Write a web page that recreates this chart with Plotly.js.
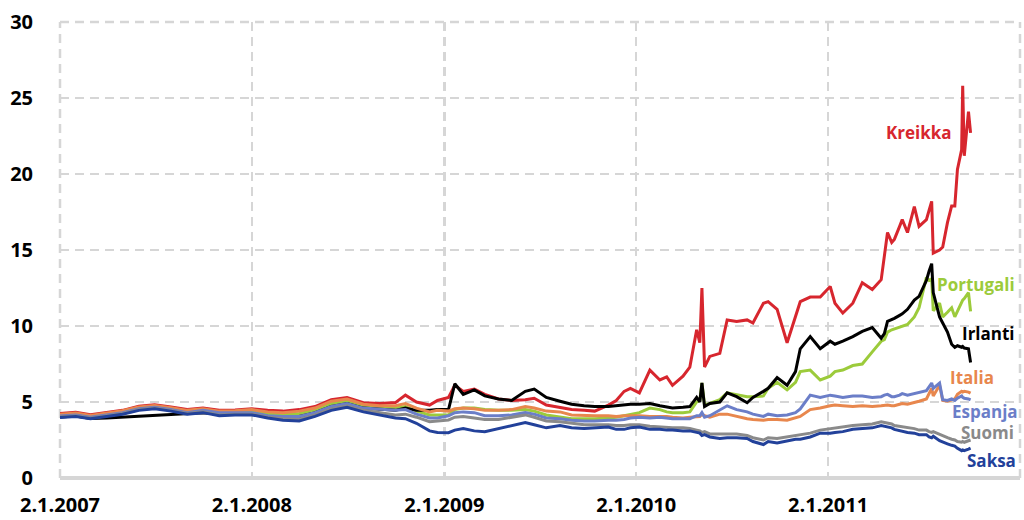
<!DOCTYPE html>
<html>
<head>
<meta charset="utf-8">
<script src="https://cdn.plot.ly/plotly-3.0.1.min.js"></script>
<style>html,body{margin:0;padding:0;background:#fff;}#chart{width:1024px;height:520px;}</style>
</head>
<body>
<div id="chart"></div>
<script>
const dates = [
'2007-01-02','2007-02-01','2007-03-01','2007-04-01','2007-05-01','2007-06-01','2007-07-01','2007-08-01','2007-09-01','2007-10-01','2007-11-01','2007-12-01',
'2008-01-02','2008-02-01','2008-03-01','2008-04-01','2008-05-01','2008-06-01','2008-07-01','2008-08-01','2008-09-01','2008-10-01','2008-10-20','2008-11-10','2008-12-05','2008-12-20',
'2009-01-10','2009-01-22','2009-02-07','2009-02-28','2009-03-20','2009-04-15','2009-05-10','2009-06-05','2009-06-22','2009-07-15','2009-08-10','2009-09-01','2009-09-25','2009-10-15','2009-11-10','2009-11-25','2009-12-10','2009-12-22',
'2010-01-08','2010-01-28','2010-02-16','2010-03-01','2010-03-12','2010-04-01','2010-04-14','2010-04-27','2010-05-03','2010-05-07','2010-05-12','2010-05-22','2010-06-10','2010-06-24','2010-07-12','2010-08-01','2010-08-12','2010-09-01','2010-09-10','2010-09-27','2010-10-16','2010-11-01','2010-11-10','2010-11-29','2010-12-18',
'2011-01-06','2011-01-15','2011-01-30','2011-02-18','2011-03-08','2011-03-27','2011-04-13','2011-04-19','2011-04-25','2011-05-03','2011-05-08','2011-05-18','2011-05-23','2011-06-02','2011-06-15','2011-06-24','2011-07-08','2011-07-13','2011-07-18','2011-07-21','2011-08-02','2011-08-08','2011-08-17','2011-08-25','2011-08-31','2011-09-05','2011-09-13','2011-09-15','2011-09-18','2011-09-26','2011-09-30'
];

const kreikka = [
4.25,4.32,4.17,4.3,4.45,4.72,4.82,4.67,4.5,4.6,4.45,4.48,
4.55,4.45,4.4,4.5,4.7,5.15,5.3,4.95,4.9,4.96,5.45,5.0,4.8,5.1,
5.3,6.1,5.7,5.85,5.5,5.2,5.1,5.15,5.25,4.8,4.65,4.5,4.45,4.4,4.8,5.1,5.7,5.9,
5.6,7.1,6.45,6.65,6.1,6.7,7.3,9.75,8.9,12.5,7.3,8.0,8.2,10.4,10.3,10.4,10.2,11.5,11.6,11.1,8.9,10.6,11.6,11.9,11.9,
12.6,11.5,10.85,11.5,12.85,12.4,13.05,14.8,16.15,15.5,15.7,16.55,17.0,16.15,17.85,16.55,17.0,17.6,18.2,14.8,15.0,15.2,16.8,17.9,17.9,20.3,21.6,25.8,21.2,24.1,22.7
];

const portugali = [
4.15,4.22,4.07,4.22,4.37,4.62,4.72,4.57,4.4,4.5,4.35,4.37,
4.4,4.25,4.2,4.25,4.5,4.9,5.1,4.75,4.6,4.6,4.7,4.4,4.15,4.15,
4.15,4.5,4.6,4.6,4.5,4.45,4.45,4.5,4.4,4.15,4.0,3.9,3.9,3.9,3.95,4.0,4.1,4.2,
4.3,4.6,4.5,4.35,4.3,4.3,4.35,5.0,5.1,6.25,4.8,4.9,5.15,5.6,5.5,5.35,5.35,5.4,5.9,6.3,5.8,6.3,7.0,7.1,6.45,
6.7,7.0,7.1,7.4,7.5,8.3,9.0,9.1,9.6,9.75,9.8,9.95,10.0,10.1,10.6,11.2,13.2,13.0,13.1,11.0,11.5,10.6,10.9,11.2,10.6,11.0,11.6,11.7,11.8,12.2,10.96
];

const irlanti = [
4.02,4.08,3.92,3.95,null,null,null,null,null,4.3,4.2,4.2,
4.25,4.05,4.0,4.05,4.3,4.7,4.9,4.6,4.5,4.45,4.6,4.45,4.45,4.5,
4.5,6.2,5.5,5.8,5.4,5.2,5.1,5.7,5.85,5.3,5.05,4.85,4.75,4.7,4.7,4.75,4.8,4.85,
4.85,4.9,4.75,4.65,4.6,4.65,4.7,5.3,5.0,6.25,4.7,4.9,5.0,5.6,5.35,4.95,5.3,5.7,5.9,6.6,6.1,7.0,8.5,9.3,8.5,
9.0,8.8,9.0,9.3,9.65,9.9,9.2,9.5,10.3,10.4,10.5,10.7,10.8,11.1,11.7,11.95,13.0,13.6,14.1,12.2,10.6,10.2,9.6,8.8,8.6,8.7,8.6,8.65,8.55,8.5,7.6
];

const italia = [
4.2,4.27,4.12,4.27,4.42,4.67,4.77,4.62,4.45,4.55,4.4,4.42,
4.5,4.35,4.3,4.4,4.6,5.05,5.2,4.85,4.75,4.75,4.9,4.6,4.35,4.45,
4.4,4.55,4.6,4.55,4.45,4.45,4.5,4.7,4.6,4.4,4.35,4.15,4.1,4.1,4.1,4.05,4.1,4.1,
4.1,4.05,4.05,4.05,4.0,3.95,4.0,4.05,4.05,4.2,4.1,4.0,4.2,4.2,4.05,3.9,3.85,3.8,3.85,3.85,3.8,3.95,4.05,4.5,4.6,
4.75,4.8,4.75,4.7,4.75,4.7,4.75,4.8,4.8,4.75,4.75,4.85,4.9,4.85,4.95,5.05,5.2,5.6,5.9,5.4,6.1,5.1,5.05,5.15,5.2,5.5,5.7,5.65,5.7,5.65,5.58
];

const espanja = [
4.08,4.15,4.0,4.15,4.3,4.55,4.65,4.5,4.3,4.45,4.3,4.3,
4.3,4.1,4.05,4.05,4.3,4.7,4.9,4.6,4.5,4.45,4.5,4.2,3.95,3.95,
4.09,4.3,4.35,4.3,4.1,4.1,4.15,4.3,4.2,3.95,3.9,3.8,3.75,3.75,3.8,3.8,3.85,3.95,
4.0,3.95,4.0,3.95,3.9,3.9,3.9,4.1,4.1,4.3,4.0,4.1,4.5,4.75,4.5,4.35,4.2,4.05,4.2,4.1,4.15,4.3,4.55,5.45,5.3,
5.45,5.4,5.3,5.4,5.4,5.3,5.35,5.45,5.5,5.35,5.35,5.45,5.55,5.45,5.55,5.65,5.75,6.0,6.25,5.9,6.25,5.15,5.1,5.2,5.1,5.25,5.4,5.3,5.25,5.2,5.14
];

const suomi = [
4.03,4.1,3.95,4.1,4.25,4.5,4.6,4.45,4.25,4.35,4.15,4.2,
4.2,4.0,3.9,3.85,4.15,4.55,4.75,4.45,4.3,4.15,4.2,4.0,3.7,3.75,
3.82,4.0,4.05,3.95,3.85,3.85,4.0,4.15,4.0,3.75,3.7,3.6,3.5,3.5,3.5,3.45,3.45,3.5,
3.5,3.4,3.35,3.3,3.3,3.3,3.25,3.15,3.1,3.0,3.05,2.9,2.9,2.9,2.9,2.8,2.65,2.5,2.65,2.6,2.7,2.8,2.85,2.95,3.15,
3.25,3.3,3.35,3.45,3.5,3.55,3.7,3.65,3.6,3.55,3.45,3.4,3.35,3.3,3.25,3.15,3.15,3.05,3.0,3.05,2.85,2.75,2.65,2.55,2.5,2.4,2.35,2.4,2.35,2.45,2.5
];

const saksa = [
3.98,4.05,3.9,4.05,4.2,4.45,4.55,4.4,4.2,4.3,4.1,4.15,
4.15,3.95,3.8,3.75,4.05,4.45,4.65,4.35,4.15,3.95,3.9,3.6,3.1,3.0,
2.98,3.15,3.25,3.1,3.05,3.25,3.4,3.65,3.5,3.3,3.45,3.3,3.25,3.3,3.35,3.2,3.2,3.3,
3.35,3.2,3.2,3.15,3.15,3.1,3.1,3.0,2.95,2.8,2.85,2.7,2.6,2.65,2.65,2.6,2.4,2.2,2.4,2.3,2.45,2.55,2.55,2.7,2.95,
2.95,3.0,3.05,3.2,3.25,3.3,3.45,3.4,3.35,3.3,3.2,3.1,3.05,3.0,2.95,2.85,2.85,2.7,2.65,2.75,2.45,2.35,2.25,2.15,2.1,1.95,1.8,1.85,1.8,1.9,1.96
];

const seriesNames = ['Kreikka','Portugali','Irlanti','Italia','Espanja','Suomi','Saksa'];
const seriesColors = ['#d7262e','#9ccb3b','#000000','#e8874d','#6b7ec8','#8a8a8a','#22419a'];
const seriesValues = [kreikka, portugali, irlanti, italia, espanja, suomi, saksa];

const xTickVals = ['2007-01-02','2008-01-02','2009-01-02','2010-01-02','2011-01-02','2012-01-02'];
const xTickText = ['2.1.2007','2.1.2008','2.1.2009','2.1.2010','2.1.2011',''];

// label anchor positions (date, value)
const labelX = ['2011-06-24','2011-10-11','2011-11-03','2011-10-02','2011-10-27','2011-11-01','2011-11-08'];
const labelY = [22.74, 12.72, 9.53, 6.59, 4.35, 2.97, 1.15];

const traces = seriesNames.map((n, i) => ({
  type: 'scatter', mode: 'lines', name: n,
  x: dates, y: seriesValues[i],
  connectgaps: true,
  line: {color: seriesColors[i], width: 3}
}));

const annotations = seriesNames.map((n, i) => ({
  x: labelX[i], y: labelY[i], xref: 'x', yref: 'y',
  text: n, showarrow: false,
  xanchor: 'center', yanchor: 'middle',
  font: {family: 'Open Sans', size: 17, color: seriesColors[i], weight: 'bold'}
}));

const gridColor = '#d6d6d6';
const dashPat = '9px,6px';
const edgeLine = {color: gridColor, width: 2.5, dash: dashPat};
const shapes = [
  {type: 'line', xref: 'paper', yref: 'paper', x0: 0, x1: 0, y0: 0, y1: 1, line: edgeLine, layer: 'below'},
  {type: 'line', xref: 'paper', yref: 'paper', x0: 1, x1: 1, y0: 0, y1: 1, line: edgeLine, layer: 'below'},
  {type: 'line', xref: 'paper', yref: 'paper', x0: 0, x1: 1, y0: 1, y1: 1, line: edgeLine, layer: 'below'}
];

const layout = {
  width: 1024, height: 520,
  margin: {l: 60, r: 4, t: 22, b: 42},
  paper_bgcolor: '#ffffff', plot_bgcolor: '#ffffff',
  showlegend: false,
  xaxis: {
    type: 'date', range: ['2007-01-02', '2012-01-02'],
    tickmode: 'array', tickvals: xTickVals, ticktext: xTickText,
    showgrid: true, gridcolor: gridColor, gridwidth: 2.5, griddash: dashPat,
    showline: false, zeroline: false,
    ticks: 'outside', ticklen: 9, tickcolor: 'rgba(0,0,0,0)',
    tickfont: {family: 'Open Sans', size: 20, color: '#000', weight: 'bold'}
  },
  yaxis: {
    range: [0, 30], dtick: 5, tick0: 0,
    showgrid: true, gridcolor: gridColor, gridwidth: 2.5, griddash: dashPat,
    zeroline: true, zerolinecolor: gridColor, zerolinewidth: 3.5,
    showline: false,
    ticks: 'outside', ticklen: 22, tickcolor: 'rgba(0,0,0,0)',
    tickfont: {family: 'Open Sans', size: 20, color: '#000', weight: 'bold'}
  },
  shapes: shapes,
  annotations: annotations
};

Plotly.newPlot('chart', traces, layout, {displayModeBar: false, staticPlot: true});
</script>
</body>
</html>
